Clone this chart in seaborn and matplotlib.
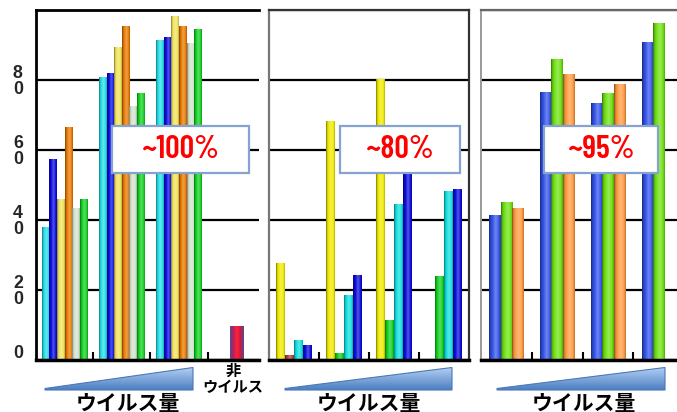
import numpy as np
import pandas as pd
import matplotlib
matplotlib.use("Agg")
import matplotlib.pyplot as plt
import seaborn as sns
from matplotlib.patches import Polygon, Rectangle
from matplotlib.colors import to_rgb
from matplotlib import font_manager
from matplotlib.font_manager import FontProperties
from matplotlib.textpath import TextPath

nan = np.nan

# ---------------- data ----------------
groups = ["1", "2", "3", "4"]

# panel 1 (~100%)
p1_series = ["a", "b", "c", "d", "e", "f"]
p1_a = [37.5, 80.5, 91.1, nan]
p1_b = [57.0, 81.6, 91.9, nan]
p1_c = [45.6, 89.1, 97.9, nan]
p1_d = [66.2, 95.1, 95.1, nan]
p1_e = [43.2, 72.2, 90.3, nan]
p1_f = [45.6, 75.9, 94.4, nan]
p1_nonvirus = [nan, nan, nan, 9.2]

# panel 2 (~80%)
p2_series = ["a", "b", "c", "d"]
p2_a = [27.3, 67.9, 80.0, nan]
p2_b = [1.0, 1.6, 11.0, 23.7]
p2_c = [5.3, 18.1, 44.1, 47.9]
p2_d = [3.9, 23.9, 55.0, 48.4]

# panel 3 (~95%)
p3_series = ["a", "b", "c"]
p3_a = [41.1, 76.3, 73.2, 90.7]
p3_b = [44.7, 85.6, 76.1, 95.9]
p3_c = [43.0, 81.3, 78.4, nan]

ytick_vals = [0, 20, 40, 60, 80]
ytick_labels = ["0\n", "2\n0", "4\n0", "6\n0", "8\n0"]
box_texts = ["~100%", "~80%", "~95%"]
xlabel_text = "ウイルス量"
nonvirus_text = "非\nウイルス"


def long_df(series, cols):
    rows = []
    for s, vals in zip(series, cols):
        for g, v in zip(groups, vals):
            rows.append({"group": g, "series": s, "value": v})
    return pd.DataFrame(rows).dropna()


df1 = long_df(p1_series, [p1_a, p1_b, p1_c, p1_d, p1_e, p1_f])
df1nv = pd.DataFrame({"group": groups, "value": p1_nonvirus}).dropna()
df2 = long_df(p2_series, [p2_a, p2_b, p2_c, p2_d])
df3 = long_df(p3_series, [p3_a, p3_b, p3_c])

# ---------------- style ----------------
p1_colors = ["#22dde6", "#0a0ae0", "#f0e35a", "#e87800", "#d2e2cc", "#10d020"]
p2_colors = ["#f0ea00", "#10d020", "#10dede", "#0a0ad8"]
p2_red = "#b03c3c"
p3_colors = ["#3050e8", "#6ee010", "#ff9a40"]
nv_color = "#e8203c"

sns.set_style("white")
plt.rcParams["font.family"] = ["Noto Sans CJK JP", "DejaVu Sans"]


# pick a narrow, medium-weight font for the red percentage labels
def pick_narrow_font(target_ratio=2.7, target_weight=600):
    best, best_err = None, None
    for f in font_manager.fontManager.ttflist:
        key = (f.name + " " + f.fname).lower()
        if not any(k in key for k in ("condensed", "narrow")):
            continue
        if "italic" in key or "oblique" in key:
            continue
        w = f.weight if isinstance(f.weight, int) else (700 if "bold" in str(f.weight) else 400)
        try:
            fp = FontProperties(fname=f.fname)
            wd = TextPath((0, 0), "100%", size=1, prop=fp).get_extents().width
            ht = TextPath((0, 0), "1", size=1, prop=fp).get_extents().height
        except Exception:
            continue
        if ht <= 0:
            continue
        err = abs(wd / ht - target_ratio) + abs(w - target_weight) / 400.0
        if best_err is None or err < best_err:
            best, best_err = (fp, ht), err
    if best is None:
        fp = FontProperties(family=["Liberation Sans", "DejaVu Sans"])
        ht = TextPath((0, 0), "1", size=1, prop=fp).get_extents().height
        best = (fp, ht)
    return best


box_fp, cap_ratio = pick_narrow_font()
box_fp = box_fp.copy()
box_fp.set_size(22.5 / cap_ratio * 0.72)  # ~22 px digit height

W, H = 677, 412
fig = plt.figure(figsize=(W / 100, H / 100), dpi=100)


def px_axes(x0, x1, y0, y1):
    return fig.add_axes([x0 / W, 1 - y1 / H, (x1 - x0) / W, (y1 - y0) / H])


ax1 = px_axes(36, 259, 10, 359.5)
ax2 = px_axes(269, 469, 10, 359.5)
ax3 = px_axes(481, 684, 10, 359.5)

sns.barplot(data=df1, x="group", y="value", hue="series", order=groups,
            hue_order=p1_series, palette=p1_colors, width=0.8, saturation=1,
            linewidth=0, legend=False, ax=ax1, errorbar=None)
sns.barplot(data=df1nv, x="group", y="value", order=groups, color=nv_color,
            width=0.23, saturation=1, linewidth=0, ax=ax1, errorbar=None)
sns.barplot(data=df2, x="group", y="value", hue="series", order=groups,
            hue_order=p2_series, palette=p2_colors, width=0.72, saturation=1,
            linewidth=0, legend=False, ax=ax2, errorbar=None)
sns.barplot(data=df3, x="group", y="value", hue="series", order=groups,
            hue_order=p3_series, palette=p3_colors, width=0.67, saturation=1,
            linewidth=0, legend=False, ax=ax3, errorbar=None)

# recolor the first-group second bar of panel 2 (reddish)
for p in ax2.patches:
    if p.get_x() + p.get_width() / 2 < 0.5 and np.allclose(p.get_facecolor()[:3], to_rgb(p2_colors[1]), atol=0.02):
        p.set_facecolor(p2_red)


def gradient_for(color):
    c = np.array(to_rgb(color))
    N = 40
    t = np.linspace(0, 1, N)
    if np.allclose(c, to_rgb(nv_color), atol=0.02):
        stops = np.array([to_rgb("#4a4c98"), to_rgb("#c02050"), to_rgb("#ff2040"),
                          to_rgb("#d01838"), to_rgb("#4a4c98")])
        pos = [0, 0.25, 0.5, 0.75, 1]
        out = np.stack([np.interp(t, pos, stops[:, k]) for k in range(3)], axis=1)
        return out[None, :, :]
    s = np.interp(t, [0, 0.12, 0.55, 0.8, 1.0], [-0.5, -0.15, 0.3, 0.1, -0.25])
    out = np.empty((N, 3))
    for i, si in enumerate(s):
        out[i] = c * (1 + si) if si < 0 else c + (1 - c) * si
    return np.clip(out, 0, 1)[None, :, :]


def style_axes(ax, xlim):
    for p in list(ax.patches):
        h = p.get_height()
        if not np.isfinite(h) or h <= 0:
            continue
        x0, w = p.get_x(), p.get_width()
        ax.imshow(gradient_for(p.get_facecolor()), extent=[x0, x0 + w, 0, h],
                  aspect="auto", interpolation="bilinear", zorder=2)
        p.set_visible(False)
    ax.set_xlim(*xlim)
    ax.set_ylim(0, 100)
    ax.set_yticks([0, 20, 40, 60, 80, 100])
    ax.yaxis.grid(True, color="black", linewidth=1.6)
    ax.set_axisbelow(True)
    ax.set_xticks([])
    ax.set_xticks([0.5, 1.5, 2.5], minor=True)
    ax.tick_params(axis="x", which="minor", direction="in", length=6, width=1.5,
                   color="black", bottom=True)
    ax.set_xlabel("")
    ax.set_ylabel("")
    ax.spines["bottom"].set_color("black")
    ax.spines["bottom"].set_linewidth(2.5)


style_axes(ax1, (-0.5, 3.4))
style_axes(ax2, (-0.5, 3.5))
style_axes(ax3, (-0.5, 3.5))

ax1.set_yticks(ytick_vals + [100])
ax1.set_yticklabels(ytick_labels + [""])
ax1.tick_params(axis="y", length=0, pad=9.5)
for lbl in ax1.get_yticklabels():
    lbl.set_fontfamily(["Liberation Sans", "DejaVu Sans"])
    lbl.set_fontweight("bold")
    lbl.set_fontsize(12.8)
    lbl.set_linespacing(0.95)
for ax in (ax2, ax3):
    ax.tick_params(axis="y", length=0, labelleft=False)

ax1.spines["left"].set_color("black"); ax1.spines["left"].set_linewidth(2)
ax1.spines["top"].set_color("black"); ax1.spines["top"].set_linewidth(2)
ax1.spines["right"].set_visible(False)

ax2.spines["left"].set_color("#777777"); ax2.spines["left"].set_linewidth(1.6)
ax2.spines["top"].set_color("#333333"); ax2.spines["top"].set_linewidth(1.6)
ax2.spines["right"].set_color("#333333"); ax2.spines["right"].set_linewidth(1.6)

ax3.spines["left"].set_color("#999999"); ax3.spines["left"].set_linewidth(1.4)
ax3.spines["top"].set_color("#666666"); ax3.spines["top"].set_linewidth(1.6)
ax3.spines["right"].set_visible(False)

# ---------------- overlay: boxes, wedges, labels ----------------
ov = fig.add_axes([0, 0, 1, 1], zorder=10)
ov.set_xlim(0, W)
ov.set_ylim(H, 0)
ov.axis("off")
ov.patch.set_alpha(0)

box_x = [(112, 249), (340, 460), (544, 658)]
for (bx0, bx1), txt in zip(box_x, box_texts):
    ov.add_patch(Rectangle((bx0, 126), bx1 - bx0, 47, facecolor="white",
                           edgecolor="#86a2d0", linewidth=1.6, zorder=11))
    ov.text((bx0 + bx1) / 2 - 0.5, 150, txt, ha="center", va="center", color="#ff0000",
            fontproperties=box_fp, zorder=12)

wedges = [(45, 193), (285, 452), (497, 665)]
label_cx = [127.5, 369, 584]
grad = np.linspace(0, 1, 30)[:, None]
top_c = np.array(to_rgb("#b4d0f4"))
bot_c = np.array(to_rgb("#4d7fc2"))
wimg = (top_c[None, None, :] * (1 - grad[:, :, None]) + bot_c[None, None, :] * grad[:, :, None])
for (wx0, wx1), cx in zip(wedges, label_cx):
    poly = Polygon([(wx0, 388.5), (wx1, 367.5), (wx1, 390), (wx0, 390)], closed=True,
                   facecolor="none", edgecolor="#4a78b8", linewidth=0.8, zorder=12)
    ov.add_patch(poly)
    im = ov.imshow(wimg, extent=[wx0, wx1, 390, 367.5], aspect="auto",
                   interpolation="bilinear", zorder=11)
    im.set_clip_path(poly)
    ov.text(cx, 403, xlabel_text, ha="center", va="center", fontsize=15,
            fontweight="bold", color="black", zorder=12)

ov.text(233, 379, nonvirus_text, ha="center", va="center", fontsize=11,
        fontweight="bold", color="black", linespacing=1.0, zorder=12)
ov.set_xlim(0, W)
ov.set_ylim(H, 0)

fig.savefig("out.png", dpi=100)
